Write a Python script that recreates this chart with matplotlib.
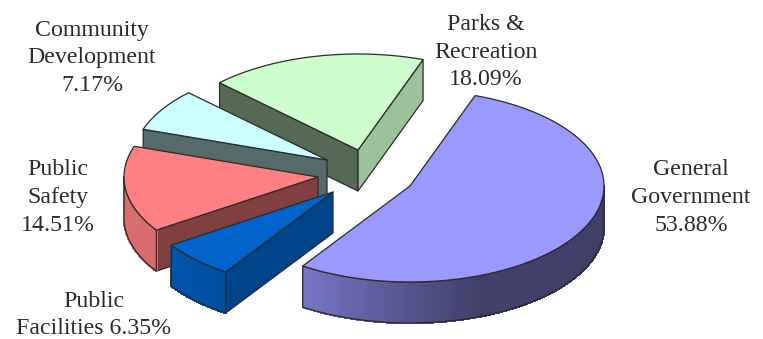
import numpy as np
import matplotlib
matplotlib.use("Agg")
import matplotlib.pyplot as plt
from matplotlib.patches import Polygon

# data
categories = ["General Government", "Public Facilities", "Public Safety",
              "Community Development", "Parks & Recreation"]
shares = [53.88, 6.35, 14.51, 7.17, 18.09]
labels = ["General\nGovernment\n53.88%", "Public\nFacilities 6.35%", "Public\nSafety\n14.51%",
          "Community\nDevelopment\n7.17%", "Parks &\nRecreation\n18.09%"]

# style / layout
top_colors = ["#9999ff", "#0064cc", "#ff8080", "#ccffff", "#ccffcc"]
apexes = [(410, 186), (333, 192), (318, 177), (327, 160), (358, 150)]
label_xy = [(691, 197.5), (94, 315), (58, 197.5), (92, 58), (486, 52)]
START = 70.4
RX, RY, DEPTH = 194, 96, 41
FONT = "Liberation Serif"
FS = 17.2
EDGE = "#2a2a2a"


def rgb(c):
    return np.array(matplotlib.colors.to_rgb(c))


def pt(apex, t, drop=0):
    r = np.radians(t)
    return (apex[0] + RX * np.cos(r), apex[1] - RY * np.sin(r) + drop)


def rim_shade(t):
    t = ((t + 180) % 360) - 180
    return np.interp(t, [-180, -146, -123, -95, -70, 0], [0.86, 0.85, 0.77, 0.58, 0.42, 0.40])


fig = plt.figure(figsize=(7.63, 3.39), dpi=100)
ax = fig.add_axes([0, 0, 1, 1])
ax.set_xlim(0, 763)
ax.set_ylim(339, 0)
ax.axis("off")

# angular extents from the values
sweeps = np.array(shares) / sum(shares) * 360
starts = START - np.concatenate([[0], np.cumsum(sweeps)[:-1]])
ends = starts - sweeps

# painter's order: back to front
order = [4, 3, 2, 1, 0]
z = 1
for i in order:
    a, s, e, col = apexes[i], starts[i], ends[i], rgb(top_colors[i])
    apex_low = (a[0], a[1] + DEPTH)

    def face(t, factor):
        global z
        ax.add_patch(Polygon([a, pt(a, t), pt(a, t, DEPTH), apex_low], closed=True,
                             fc=col * factor, ec=EDGE, lw=0.9, zorder=z, joinstyle="round"))
        z += 1

    # cut faces that turn towards the viewer
    if np.cos(np.radians(s)) < 0:
        face(s, 0.42 if i == 4 or i == 3 else 0.5 if i == 2 else 0.68)
    if np.cos(np.radians(e)) > 0:
        face(e, 0.76)

    # outer wall: the part of the rim in the front half
    ts = np.arange(s, e - 1e-6, -1.0)
    ts = np.append(ts, e)
    front = [t for t in ts if np.sin(np.radians(t)) <= 0.02]
    if len(front) > 1:
        for t0, t1 in zip(front[:-1], front[1:]):
            c = col * rim_shade((t0 + t1) / 2)
            ax.add_patch(Polygon([pt(a, t0), pt(a, t1), pt(a, t1, DEPTH), pt(a, t0, DEPTH)],
                                 closed=True, fc=c, ec=c, lw=1.0, zorder=z, antialiased=False))
        xy = [pt(a, t) for t in front] + [pt(a, t, DEPTH) for t in front[::-1]]
        ax.add_patch(Polygon(xy, closed=True, fc="none", ec=EDGE, lw=0.9, zorder=z + 1))
        z += 2

    # top surface
    xy = [a] + [pt(a, t) for t in ts]
    ax.add_patch(Polygon(xy, closed=True, fc=col, ec=EDGE, lw=0.9, zorder=z, joinstyle="round"))
    z += 1

for lab, (x, y) in zip(labels, label_xy):
    ax.text(x, y, lab, ha="center", va="center", family=FONT, fontsize=FS,
            color="#2a2a2a", linespacing=1.42, zorder=z)

fig.savefig("out.png", dpi=100)
